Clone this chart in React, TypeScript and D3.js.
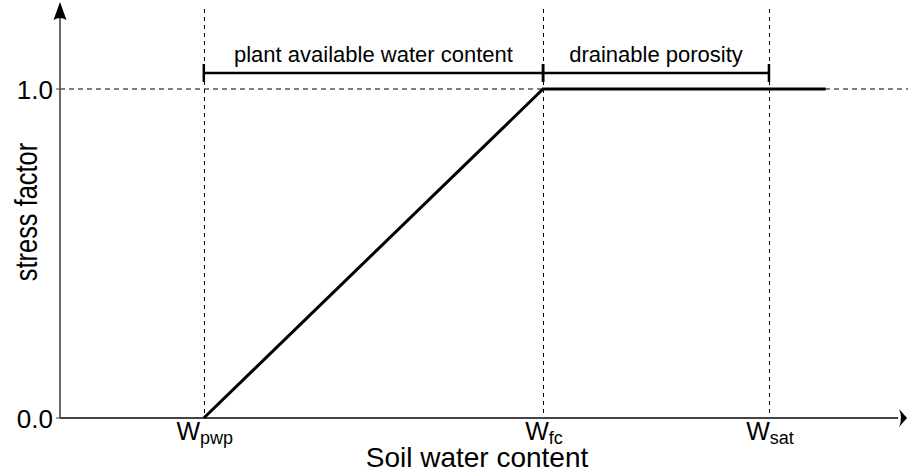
import React from "react";
import * as d3 from "d3";

const W = 908;
const H = 474;

// abstract soil water content positions (0..100 axis units)
const markers = [
  { key: "pwp", base: "W", sub: "pwp", value: 17.0 },
  { key: "fc", base: "W", sub: "fc", value: 57.1 },
  { key: "sat", base: "W", sub: "sat", value: 83.8 },
];
const curveX = [17.0, 57.1, 90.5];
const curveY = [0.0, 1.0, 1.0];
const yTicks = [0.0, 1.0];
const spans = [
  { label: "plant available water content", from: 17.0, to: 57.1 },
  { label: "drainable porosity", from: 57.1, to: 83.8 },
];

export default function App() {
  const x = d3.scaleLinear().domain([0, 100]).range([60, 906]);
  const y = d3.scaleLinear().domain([0, 1]).range([418, 89]);
  const font = "'Liberation Sans', Arial, sans-serif";
  const line = d3
    .line<number>()
    .x((d) => x(curveX[d]))
    .y((d) => y(curveY[d]));
  const x0 = x(0);
  const y0 = y(0);
  const bracketY = 73;
  return (
    <svg
      width={W}
      height={H}
      style={{ position: "absolute", left: 0, top: 0, background: "#fff" }}
      fontFamily={font}
    >
      {/* horizontal dashed at 1.0 */}
      <line x1={x0} x2={908} y1={y(1)} y2={y(1)} stroke="#000" strokeWidth={1} strokeDasharray="5,4" />
      {/* vertical dashed lines */}
      {markers.map((m) => (
        <line
          key={m.key}
          x1={Math.round(x(m.value)) + 0.5}
          x2={Math.round(x(m.value)) + 0.5}
          y1={9}
          y2={y0}
          stroke="#000"
          strokeWidth={1}
          strokeDasharray="4,4"
        />
      ))}
      {/* axes */}
      <line x1={x0} x2={x0} y1={y0} y2={18} stroke="#444" strokeWidth={1.6} />
      <line x1={x0} x2={898} y1={y0} y2={y0} stroke="#444" strokeWidth={2} />
      <path d={`M${x0},2 L${x0 + 6.5},20 Q${x0},16 ${x0 - 6.5},20 Z`} fill="#000" />
      <path d={`M907,${y0} L899,${y0 - 9} Q903,${y0} 899,${y0 + 9} Z`} fill="#000" />
      {/* y ticks */}
      {yTicks.map((t) => (
        <g key={t}>
          <line x1={x0 - 4} x2={x0} y1={y(t)} y2={y(t)} stroke="#444" strokeWidth={1} />
          <text x={53} y={y(t) + 10} textAnchor="end" fontSize={26} fill="#000">
            {t.toFixed(1)}
          </text>
        </g>
      ))}
      {/* curve */}
      <path d={line([0, 1, 2]) || ""} fill="none" stroke="#000" strokeWidth={3} />
      {/* brackets */}
      {spans.map((s) => (
        <g key={s.label}>
          <line x1={x(s.from)} x2={x(s.to)} y1={bracketY} y2={bracketY} stroke="#000" strokeWidth={2.5} />
          <line x1={x(s.from)} x2={x(s.from)} y1={bracketY - 9} y2={bracketY + 9} stroke="#000" strokeWidth={2.5} />
          <line x1={x(s.to)} x2={x(s.to)} y1={bracketY - 9} y2={bracketY + 9} stroke="#000" strokeWidth={2.5} />
          <text x={(x(s.from) + x(s.to)) / 2} y={62} textAnchor="middle" fontSize={22} fill="#000">
            {s.label}
          </text>
        </g>
      ))}
      {/* marker labels */}
      {markers.map((m) => (
        <text key={m.key} x={x(m.value) + 1} y={440} textAnchor="middle" fontSize={25} fill="#000">
          {m.base}
          <tspan fontSize={18} dy={4}>
            {m.sub}
          </tspan>
        </text>
      ))}
      {/* axis labels */}
      <text x={477} y={467} textAnchor="middle" fontSize={28} fill="#000">
        Soil water content
      </text>
      <text
        transform={`translate(37,212) rotate(-90) scale(0.82,1)`}
        textAnchor="middle"
        fontSize={31}
        fill="#000"
      >
        stress factor
      </text>
    </svg>
  );
}
